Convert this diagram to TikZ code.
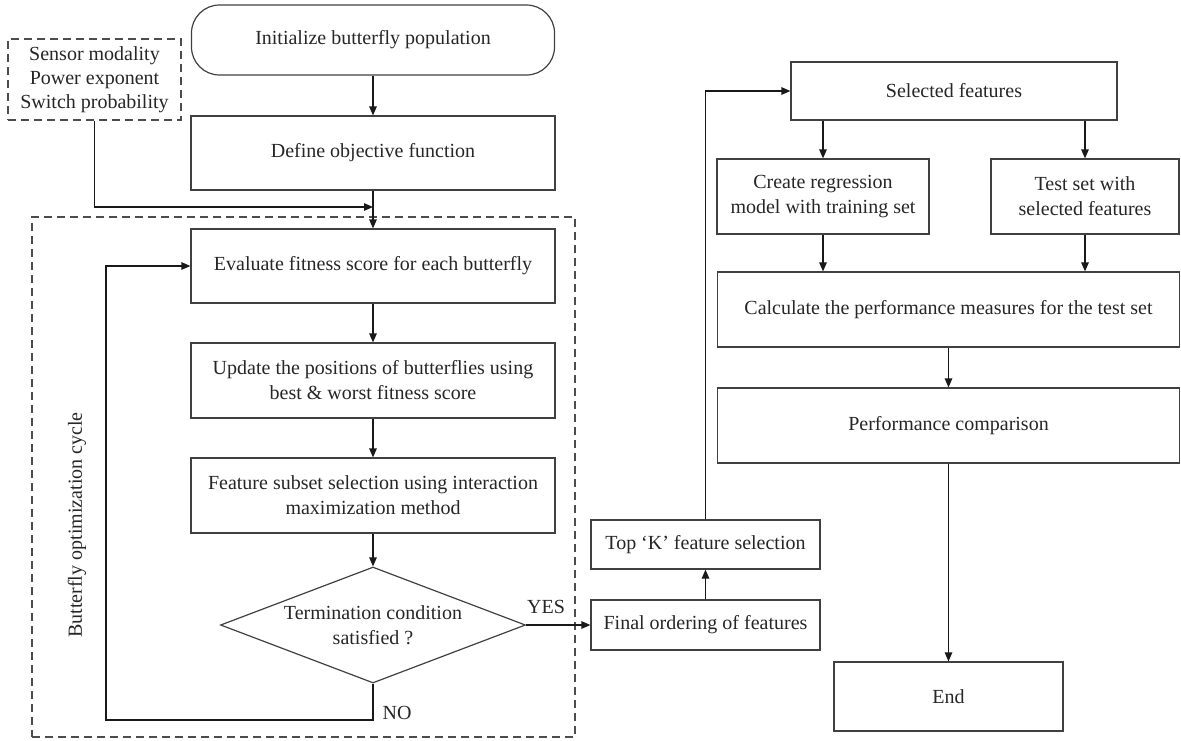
\documentclass[tikz,border=0pt]{standalone}
\usepackage{fontspec}
\setmainfont{Liberation Serif}
\usetikzlibrary{shapes.geometric,arrows.meta}
\begin{document}
\begin{tikzpicture}[x=1pt,y=-1pt,
  font=\fontsize{20}{25}\selectfont,
  proc/.style={draw=black!75, line width=1.2pt, align=center, inner sep=0pt, text=black!85},
  arr/.style={draw=black!90, line width=1.2pt, -{Triangle[length=9pt,width=7.5pt]}},
  dashbox/.style={draw=black!70, line width=1.2pt, dash pattern=on 8pt off 5pt},
  lbl/.style={text=black!85, inner sep=0pt}]
\useasboundingbox (0,0) rectangle (1181,740);
% left column
\node[proc, rounded corners=28pt, minimum width=363pt, minimum height=70pt] (init) at (373,40) {Initialize butterfly population};
\node[dashbox, align=center, minimum width=173pt, minimum height=81pt, inner sep=0pt, text=black!85, font=\fontsize{20}{24}\selectfont] (sensor) at (94.5,79.5) {Sensor modality\\Power exponent\\Switch probability};
\node[proc, minimum width=364pt, minimum height=74pt] (define) at (373,153) {Define objective function};
\node[dashbox, minimum width=543pt, minimum height=520pt] (cyc) at (303.5,477) {};
\node[lbl, rotate=90] (cyclbl) at (77,525) {Butterfly optimization cycle};
\node[proc, minimum width=364pt, minimum height=74pt] (evaluate) at (373,266) {Evaluate fitness score for each butterfly};
\node[proc, minimum width=364pt, minimum height=75pt] (update) at (373,380.5) {Update the positions of butterflies using\\best \& worst fitness score};
\node[proc, minimum width=364pt, minimum height=75pt] (feature) at (373,495.5) {Feature subset selection using interaction\\maximization method};
\node[proc, diamond, aspect=2.63, minimum width=305pt, minimum height=116pt] (dia) at (373,625) {Termination condition\\satisfied ?};
\node[lbl] (yes) at (546,607) {YES};
\node[lbl] (no) at (397,713) {NO};
% middle
\node[proc, minimum width=229pt, minimum height=50pt] (final) at (705.5,625) {Final ordering of features};
\node[proc, minimum width=229pt, minimum height=49pt] (topk) at (705.5,544.5) {Top `K' feature selection};
% right column
\node[proc, minimum width=326pt, minimum height=58pt] (selected) at (954,91) {Selected features};
\node[proc, minimum width=212pt, minimum height=75pt] (create) at (823,196.5) {Create regression\\model with training set};
\node[proc, minimum width=188pt, minimum height=75pt] (test) at (1085,196.5) {Test set with\\selected features};
\node[proc, minimum width=462pt, minimum height=75pt] (calc) at (948.5,309.5) {Calculate the performance measures for the test set};
\node[proc, minimum width=462pt, minimum height=75pt] (perf) at (948.5,425.5) {Performance comparison};
\node[proc, minimum width=229pt, minimum height=69pt] (end) at (948.5,696.5) {End};
% connectors
\coordinate (j) at (373,207);
\coordinate (nocorner) at (106,720);
\draw[arr] (init.south) -- (define.north);
\draw[arr] (define.south) -- (evaluate.north);
\draw[arr] (sensor.south) |- (j);
\draw[arr] (evaluate.south) -- (update.north);
\draw[arr] (update.south) -- (feature.north);
\draw[arr] (feature.south) -- (dia.north);
\draw[arr] (dia.south) |- (nocorner) |- (evaluate.west);
\draw[arr] (dia.east) -- (final.west);
\draw[arr] (final.north) -- (topk.south);
\draw[arr] (topk.north) |- (selected.west);
\draw[arr] (selected.south -| create.north) -- (create.north);
\draw[arr] (selected.south -| test.north) -- (test.north);
\draw[arr] (create.south) -- (create.south |- calc.north);
\draw[arr] (test.south) -- (test.south |- calc.north);
\draw[arr] (calc.south) -- (perf.north);
\draw[arr] (perf.south) -- (end.north);
\end{tikzpicture}
\end{document}
